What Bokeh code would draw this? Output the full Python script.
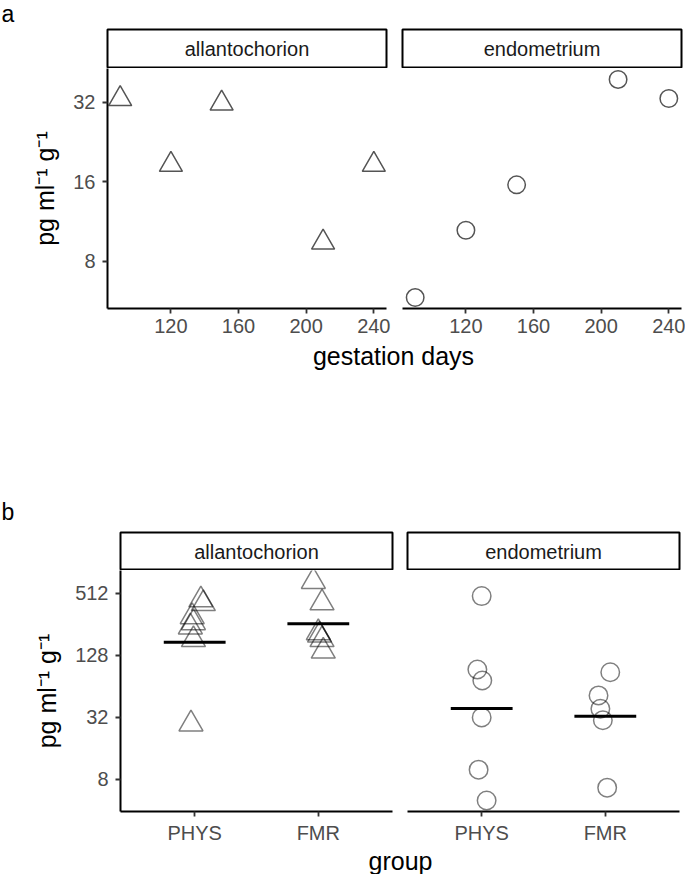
import numpy as np
from bokeh.plotting import figure
from bokeh.layouts import row, column
from bokeh.models import Range1d, FactorRange, FixedTicker, Label, ColumnDataSource, BasicTickFormatter
from bokeh.embed import file_html
from bokeh.resources import INLINE

FONT = "Liberation Sans"

# ---------------- data: panel a ----------------
days = [90, 120, 150, 210, 240]
allanto_a = [33.0, 18.6, 31.7, 9.45, 18.6]
endo_a = [5.84, 10.5, 15.6, 39.1, 33.1]
x_ticks_a = [120, 160, 200, 240]
y_ticks_a = [8, 16, 32]
facets = ["allantochorion", "endometrium"]

# ---------------- data: panel b ----------------
groups = ["PHYS", "FMR"]
y_ticks_b = [8, 32, 128, 512]
allanto_phys = [440, 405, 302, 264, 240, 181, 27.4]
allanto_phys_jit = [0.05, 0.07, -0.02, -0.01, -0.035, -0.01, -0.03]
allanto_fmr = [665, 412, 211, 200, 181, 140]
allanto_fmr_jit = [-0.04, 0.03, 0.0, 0.01, 0.03, 0.04]
endo_phys = [479, 92.7, 72.5, 31.8, 9.87, 4.95]
endo_phys_jit = [0.0, -0.035, 0.005, 0.0, -0.025, 0.04]
endo_fmr = [87.3, 52, 38.6, 29.9, 6.6]
endo_fmr_jit = [0.04, -0.055, -0.04, -0.02, 0.015]
allanto_means = [171, 258]
endo_means = [38.7, 32.7]

TICK_COLOR = "#4d4d4d"
W = 685


def lin_range(vals, pad=0.05):
    lo, hi = min(vals), max(vals)
    s = hi - lo
    return Range1d(lo - pad * s, hi + pad * s)


def log_range(vals, pad=0.05):
    lv = np.log2(np.asarray(vals, dtype=float))
    lo, hi = lv.min(), lv.max()
    s = hi - lo
    return Range1d(float(2 ** (lo - pad * s)), float(2 ** (hi + pad * s)))


def style(p):
    for ax in p.axis:
        ax.axis_line_color = "black"
        ax.axis_line_width = 2
        ax.major_tick_line_color = "#333333"
        ax.major_tick_line_width = 1.8
        ax.major_tick_out = 5
        ax.major_tick_in = 0
        ax.minor_tick_line_color = None
        ax.minor_tick_out = 0
        ax.minor_tick_in = 0
        ax.major_label_text_font = FONT
        ax.major_label_text_font_size = "20px"
        ax.major_label_text_color = TICK_COLOR
        ax.major_label_standoff = 7
        ax.axis_label_text_font = FONT
        ax.axis_label_text_font_size = "25px"
        ax.axis_label_text_font_style = "normal"
        ax.axis_label_text_color = "black"
    for ax in p.xaxis:
        ax.axis_label = None
        ax.axis_label_standoff = 0
        ax.major_label_standoff = 5
    p.grid.visible = False
    p.outline_line_color = None
    p.background_fill_color = "white"
    p.border_fill_color = "white"


def main_fig(x_range, y_range, fw, fh, left, right, show_y):
    return figure(x_range=x_range, y_range=y_range, y_axis_type="log",
                  frame_width=fw, frame_height=fh,
                  min_border_left=left, min_border_right=right,
                  min_border_top=0, min_border_bottom=33,
                  toolbar_location=None, output_backend="svg",
                  y_axis_location="left" if show_y else None)


def strip_fig(text, fw, fh, left, right):
    s = figure(x_range=Range1d(0, 1), y_range=Range1d(0, 1),
               frame_width=fw, frame_height=fh,
               min_border_left=left, min_border_right=right,
               min_border_top=1, min_border_bottom=0,
               toolbar_location=None, output_backend="svg",
               x_axis_location=None, y_axis_location=None)
    s.grid.visible = False
    s.outline_line_color = "black"
    s.outline_line_width = 2
    s.background_fill_color = "white"
    s.border_fill_color = "white"
    s.add_layout(Label(x=0.5, y=0.5, text=text, text_align="center",
                       text_baseline="middle", text_font=FONT,
                       text_font_size="20px", text_color="#1a1a1a"))
    return s


def text_fig(text, w, h, cx, mid, size, align="center"):
    # mid: vertical centre of the text box, in px from the figure's bottom
    t = figure(x_range=Range1d(0, 1), y_range=Range1d(0, 1), width=w, height=h,
               min_border=0, toolbar_location=None, output_backend="svg",
               x_axis_location=None, y_axis_location=None)
    t.grid.visible = False
    t.outline_line_color = None
    t.background_fill_color = "white"
    t.border_fill_color = "white"
    t.add_layout(Label(x=cx, y=mid, x_units="screen", y_units="screen", text=text,
                       text_align=align, text_baseline="middle",
                       text_font=FONT, text_font_size=size, text_color="black"))
    return t


YLAB = "pg ml\u207b\u00b9 g\u207b\u00b9"

# ================= panel a =================
FWA, FHA = 279, 240
xr_a1 = lin_range(days)
xr_a2 = lin_range(days)
yr_a = log_range(allanto_a + endo_a)

ha = text_fig("a", W, 28, 1, 14.5, "23px", align="left")
sa1 = strip_fig(facets[0], FWA, 39, 107, 8)
sa2 = strip_fig(facets[1], FWA, 39, 8, 4)

ma1 = main_fig(xr_a1, yr_a, FWA, FHA, 107, 8, True)
ma2 = main_fig(xr_a2, yr_a, FWA, FHA, 8, 4, False)

ma1.scatter(days, allanto_a, marker="triangle", size=23, fill_color=None,
            line_color="#555555", line_width=1.5)
ma2.scatter(days, endo_a, marker="circle", size=17.5, fill_color=None,
            line_color="#555555", line_width=1.5)

for p in (ma1, ma2):
    p.xaxis.ticker = FixedTicker(ticks=x_ticks_a)
ma1.yaxis.ticker = FixedTicker(ticks=y_ticks_a)
ma1.yaxis.formatter = BasicTickFormatter()
ma1.yaxis.axis_label = YLAB
style(ma1)
style(ma2)
ma1.yaxis.axis_label_standoff = 11

ta = text_fig("gestation days", W, 37, 393, 22.5, "25px")

panel_a = column(ha, row(sa1, sa2), row(ma1, ma2), ta)

# ================= panel b =================
FWB, FHB = 272, 241
yr_b = log_range(allanto_phys + allanto_fmr + endo_phys + endo_fmr)

hb = text_fig("b", W, 153, 1, 20, "23px", align="left")
sb1 = strip_fig(facets[0], FWB, 38, 120, 8)
sb2 = strip_fig(facets[1], FWB, 38, 7, 6)

xr_b1 = FactorRange(factors=groups, range_padding=0.1, range_padding_units="absolute")
xr_b2 = FactorRange(factors=groups, range_padding=0.1, range_padding_units="absolute")
mb1 = main_fig(xr_b1, yr_b, FWB, FHB, 120, 8, True)
mb2 = main_fig(xr_b2, yr_b, FWB, FHB, 7, 6, False)


def points(series):
    xs, ys = [], []
    for g, vals, jit in series:
        xs += [(g, j) for j in jit]
        ys += list(vals)
    return ColumnDataSource(dict(x=xs, y=ys))


mb1.scatter(x="x", y="y",
            source=points(((groups[0], allanto_phys, allanto_phys_jit),
                           (groups[1], allanto_fmr, allanto_fmr_jit))),
            marker="triangle", size=24, fill_color=None, line_color="black",
            line_alpha=0.5, line_width=1.5)
mb2.scatter(x="x", y="y",
            source=points(((groups[0], endo_phys, endo_phys_jit),
                           (groups[1], endo_fmr, endo_fmr_jit))),
            marker="circle", size=18.5, fill_color=None, line_color="black",
            line_alpha=0.5, line_width=1.5)

for p, means in ((mb1, allanto_means), (mb2, endo_means)):
    src = ColumnDataSource(dict(x0=[(g, -0.25) for g in groups],
                                x1=[(g, 0.25) for g in groups], y=means))
    p.segment(x0="x0", y0="y", x1="x1", y1="y", source=src,
              line_color="black", line_width=3)

mb1.yaxis.ticker = FixedTicker(ticks=y_ticks_b)
mb1.yaxis.formatter = BasicTickFormatter()
mb1.yaxis.axis_label = YLAB
style(mb1)
style(mb2)
mb1.yaxis.axis_label_standoff = 11

tb = text_fig("group", W, 29, 400, 14.5, "25px")

panel_b = column(hb, row(sb1, sb2), row(mb1, mb2), tb)

layout = column(panel_a, panel_b)

open("out.html", "w").write(file_html(layout, INLINE))
